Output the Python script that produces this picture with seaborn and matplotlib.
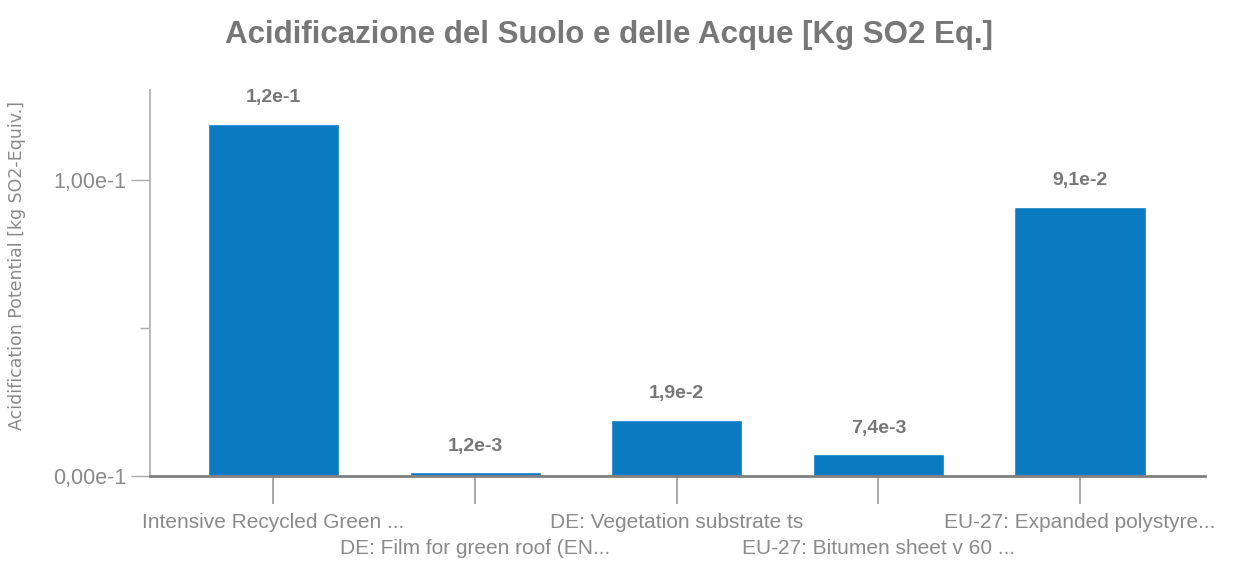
import matplotlib
matplotlib.use("Agg")
import matplotlib.pyplot as plt
import seaborn as sns
import pandas as pd

categories = [
    "Intensive Recycled Green ...",
    "DE: Film for green roof (EN...",
    "DE: Vegetation substrate ts",
    "EU-27: Bitumen sheet v 60 ...",
    "EU-27: Expanded polystyre...",
]
values = [0.119, 0.0012, 0.019, 0.0074, 0.091]
value_labels = ["1,2e-1", "1,2e-3", "1,9e-2", "7,4e-3", "9,1e-2"]
ytick_values = [0.0, 0.1]
ytick_labels = ["0,00e-1", "1,00e-1"]
yminor_values = [0.05]

sns.set_style("white")
plt.rcParams['font.family'] = ['Liberation Sans', 'DejaVu Sans']

df = pd.DataFrame({"cat": categories, "val": values})

fig = plt.figure(figsize=(12.47, 5.65), dpi=100)
ax = fig.add_axes([150/1247, 1-476/565, (1205-150)/1247, (476-90)/565])

sns.barplot(data=df, x="cat", y="val", color="#0A7BC1", width=0.65,
            saturation=1, ax=ax)

ax.set_xlim(-0.612, 4.62)
ax.set_ylim(0, 0.1304)
ax.set_xlabel("")
ax.set_ylabel("")
fig.text(17/1247, 1-265/565, "Acidification Potential [kg SO2-Equiv.]",
         rotation=90, ha="center", va="center", fontsize=12.5,
         family="DejaVu Sans", color="#8A8A8A")

ax.set_yticks(ytick_values)
ax.set_yticklabels(ytick_labels)
ax.set_yticks(yminor_values, minor=True)
ax.tick_params(axis="y", which="major", length=14, width=1, color="#AAAAAA",
               labelcolor="#8A8A8A", labelsize=15.5, pad=3, left=True)
ax.tick_params(axis="y", which="minor", length=7, width=1, color="#AAAAAA", left=True)
ax.set_xticks(range(len(categories)))
ax.set_xticklabels([])
ax.tick_params(axis="x", length=20, width=1.2, color="#999999", bottom=True)

for i, c in enumerate(categories):
    yoff = -46 if i % 2 == 0 else -73
    ax.annotate(c, xy=(i, 0), xytext=(0, yoff), textcoords="offset pixels",
                ha="center", va="center", fontsize=15, color="#8A8A8A")

for i, (v, lab) in enumerate(zip(values, value_labels)):
    ax.annotate(lab, xy=(i, v), xytext=(0, 26), textcoords="offset pixels",
                ha="center", va="center", fontsize=14, fontweight="bold",
                color="#777777")

for s in ["top", "right"]:
    ax.spines[s].set_visible(False)
ax.spines["left"].set_color("#BBBBBB")
ax.spines["left"].set_linewidth(1.5)
ax.spines["bottom"].set_color("#808080")
ax.spines["bottom"].set_linewidth(2)

fig.text(609/1247, 1-35/565, "Acidificazione del Suolo e delle Acque [Kg SO2 Eq.]",
         ha="center", va="center", fontsize=22.5, fontweight="bold", color="#777777")

fig.savefig("out.png", dpi=100)
